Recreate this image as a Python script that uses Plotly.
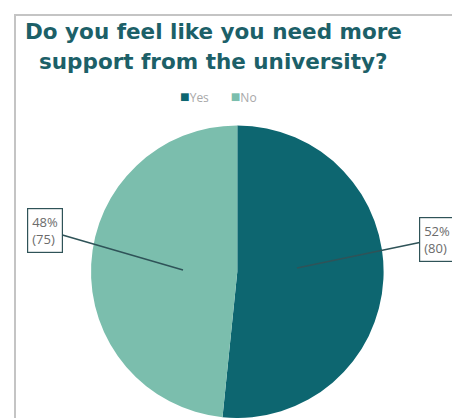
import plotly.graph_objects as go

categories = ["Yes", "No"]
counts = [80, 75]
percents = ["52%", "48%"]
colors = ["#0D6670", "#7BBEAD"]
title_lines = ["Do you feel like you need more", "support from the university?"]

W, H = 452, 418

fig = go.Figure()
fig.add_trace(go.Pie(
    labels=categories,
    values=counts,
    sort=False,
    direction="clockwise",
    rotation=0,
    textinfo="none",
    marker=dict(colors=colors, line=dict(width=0)),
    domain=dict(x=[0.2, 0.85], y=[0.0, 0.70]),
    hoverinfo="label+value+percent",
    showlegend=False,
))

# frame
fig.add_shape(type="rect", xref="paper", yref="paper",
              x0=15/W, x1=1.02, y0=-0.02, y1=1-15/H,
              line=dict(color="#C4C4C4", width=2), fillcolor="rgba(0,0,0,0)", layer="below")

# title, two lines
for line, yc in zip(title_lines, [31, 61]):
    fig.add_annotation(
        x=213/W, y=1-yc/H, xref="paper", yref="paper", xanchor="center", yanchor="middle",
        text=f"<b>{line}</b>", showarrow=False,
        font=dict(family="DejaVu Sans, sans-serif", size=21.5, color="#1C6068"),
    )

# legend built from categories/colors
legend_text = "&nbsp;&nbsp;&nbsp;&nbsp;&nbsp;&nbsp;&nbsp;".join(
    f"<span style='color:{c};font-size:16px'>■</span>{n}" for n, c in zip(categories, colors)
)
fig.add_annotation(
    x=218/W, y=1-96/H, xref="paper", yref="paper", xanchor="center", yanchor="middle",
    text=legend_text, showarrow=False,
    font=dict(family="Open Sans, sans-serif", size=12, color="#A8A8A8"),
)

# callout labels
label_specs = [
    # (tip_x_px, tip_y_px, ax, ay)
    (297, 268, 140, -29),
    (183, 270, -138, -40),
]
for i, (tx, ty, ax, ay) in enumerate(label_specs):
    fig.add_annotation(
        x=tx / W, y=1 - ty / H, xref="paper", yref="paper",
        text=f"{percents[i]}<br>({counts[i]})",
        showarrow=True, arrowhead=0, arrowwidth=1.5, arrowcolor="#2F5358",
        ax=ax, ay=ay,
        font=dict(family="Open Sans, sans-serif", size=13, color="#6B6B6B"),
        align="left",
        bordercolor="#2F5358", borderwidth=1.2, borderpad=4,
        bgcolor="white",
    )

fig.update_layout(
    width=W, height=H,
    margin=dict(l=0, r=0, t=0, b=0),
    paper_bgcolor="white",
    showlegend=False,
)

fig.write_html("out.html", config={"displayModeBar": False},
               post_script="document.body.style.margin='0';")
